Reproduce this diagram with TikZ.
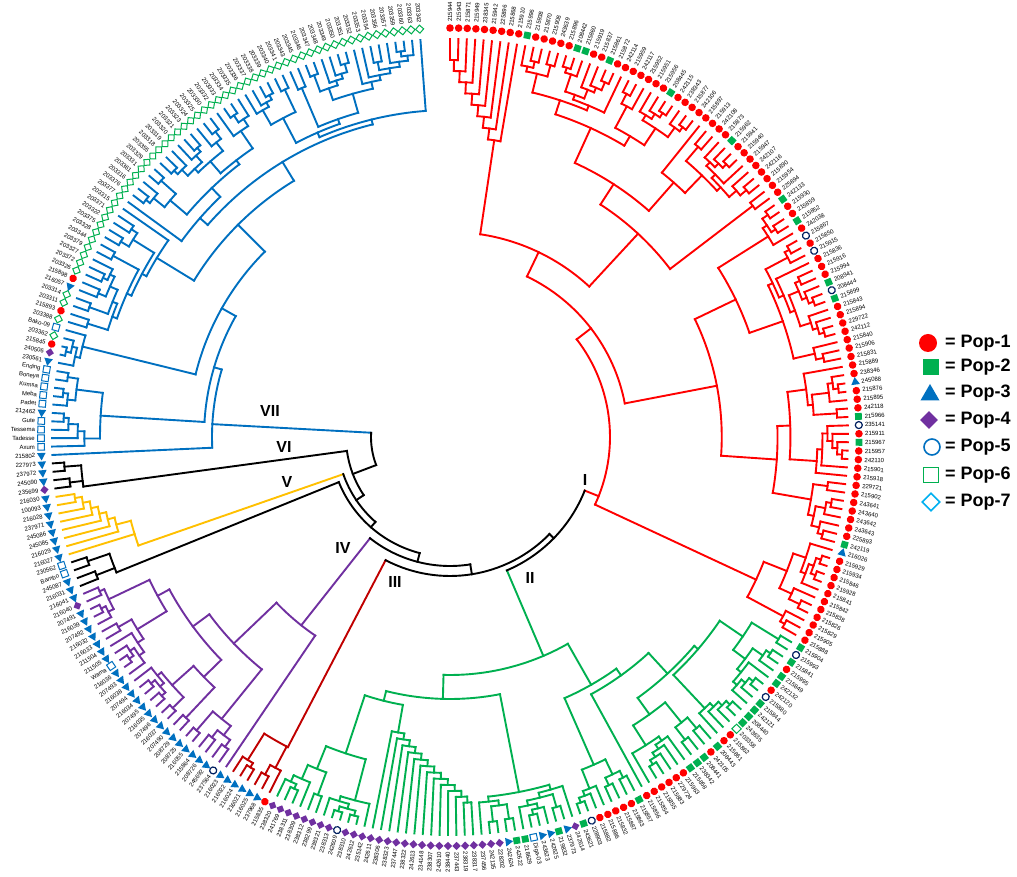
\documentclass[tikz,border=0pt]{standalone}
\usepackage{fontspec}
\setmainfont{Liberation Sans}
\usetikzlibrary{shapes.geometric}
\definecolor{cI}{HTML}{FF0000}
\definecolor{cII}{HTML}{00B050}
\definecolor{cIII}{HTML}{C00000}
\definecolor{cIV}{HTML}{7030A0}
\definecolor{cV}{HTML}{FFC000}
\definecolor{cVII}{HTML}{0070C0}
\definecolor{navy}{HTML}{002060}
\definecolor{sky}{HTML}{00B0F0}
\tikzset{
  br/.style={line width=1.9pt, line cap=rect},
  lbl/.style={font=\fontsize{6}{6}\selectfont, inner sep=0pt},
  legtxt/.style={font=\bfseries\fontsize{18}{18}\selectfont, anchor=west, inner sep=0pt},
  clab/.style={font=\bfseries\fontsize{16}{16}\selectfont, inner sep=0pt},
  mR/.style={circle, fill=cI, minimum size=7.6pt, inner sep=0pt},
  mG/.style={rectangle, fill=cII, minimum size=6.8pt, inner sep=0pt},
  mT/.style={regular polygon, regular polygon sides=3, fill=cVII, minimum size=10pt, inner sep=0pt},
  mD/.style={diamond, fill=cIV, minimum size=8.5pt, inner sep=0pt},
  mO/.style={circle, draw=navy, line width=1.2pt, minimum size=7pt, inner sep=0pt},
  mQ/.style={rectangle, draw=cVII, fill=white, line width=1pt, minimum size=6.6pt, inner sep=0pt},
  mE/.style={diamond, draw=cII, fill=white, line width=1pt, minimum size=8.5pt, inner sep=0pt},
  mS/.style={rectangle, draw=cII, fill=white, line width=1pt, minimum size=6.6pt, inner sep=0pt},
}
\newcommand\Dth{1.21}
\newcommand\Rtip{398}
\newcommand\Rmk{409}
% random subtree over leaves #1..#2 hanging from radius #3
\newcommand\RT[3]{\ifnum#1=#2\relax\expandafter\RTleaf\else\expandafter\RTnode\fi{#1}{#2}{#3}}
\newcommand\RTleaf[3]{%
  \pgfmathsetmacro\tL{90-(#1)*\Dth}%
  \draw[br] (\tL:#3pt) -- (\tL:\Rtip pt);%
  \xdef\ret{\tL}}
\newcommand\RTnode[3]{%
  \begingroup
  \pgfmathtruncatemacro\tN{#2-#1+1}%
  \pgfmathsetmacro\tR{min(\Rtip-4,max(#3+5,\Rtip-9*(\tN^0.7)*(0.7+0.6*rnd)))}%
  \pgfmathtruncatemacro\tK{#1+floor(rnd*(#2-#1))}%
  \pgfmathtruncatemacro\tKb{\tK+1}%
  \edef\tmp{\noexpand\RT{#1}{\tK}{\tR}}\tmp\let\tA\ret
  \edef\tmp{\noexpand\RT{\tKb}{#2}{\tR}}\tmp\let\tB\ret
  \pgfmathsetmacro\tM{(\tA+\tB)/2}%
  \draw[br] (\tA:\tR pt) arc[start angle=\tA, end angle=\tB, radius=\tR pt];
  \draw[br] (\tM:#3pt) -- (\tM:\tR pt);
  \xdef\ret{\tM}%
  \endgroup}
% node: radius, parent radius, child, child
\newcommand\ND[4]{%
  \begingroup
  #3\let\tA\ret
  #4\let\tB\ret
  \pgfmathsetmacro\tM{(\tA+\tB)/2}%
  \draw[br] (\tA:#1pt) arc[start angle=\tA, end angle=\tB, radius=#1pt];
  \draw[br] (\tM:#2pt) -- (\tM:#1pt);
  \xdef\ret{\tM}%
  \endgroup}
% clade top: radius, parent radius, stem angle, child, child
\newcommand\NDA[5]{%
  \begingroup
  #4\let\tA\ret
  #5\let\tB\ret
  \pgfmathsetmacro\tP{max(\tA,#3)}%
  \pgfmathsetmacro\tQ{min(\tB,#3)}%
  \draw[br] (\tP:#1pt) arc[start angle=\tP, end angle=\tQ, radius=#1pt];
  \draw[br] (#3:#2pt) -- (#3:#1pt);
  \xdef\ret{#3}%
  \endgroup}
% ladders: first, last, radius, step, parent radius
\newcommand\LAD[5]{\ifnum#1=#2\relax\RTleaf{#1}{#2}{#5}\else\LADn{#1}{#2}{#3}{#4}{#5}\fi}
\newcommand\LADn[5]{%
  \begingroup
  \pgfmathtruncatemacro\tS{#1+1}\pgfmathsetmacro\tRR{min(#3+#4,\Rtip-3)}%
  \edef\tmp{\noexpand\ND{#3}{#5}{\noexpand\RTleaf{#1}{#1}{#3}}{\noexpand\LAD{\tS}{#2}{\tRR}{#4}{#3}}}\tmp
  \endgroup}
\newcommand\LADr[5]{\ifnum#1=#2\relax\RTleaf{#1}{#2}{#5}\else\LADrn{#1}{#2}{#3}{#4}{#5}\fi}
\newcommand\LADrn[5]{%
  \begingroup
  \pgfmathtruncatemacro\tE{#2-1}\pgfmathsetmacro\tRR{min(#3+#4,\Rtip-3)}%
  \edef\tmp{\noexpand\ND{#3}{#5}{\noexpand\LADr{#1}{\tE}{\tRR}{#4}{#3}}{\noexpand\RTleaf{#2}{#2}{#3}}}\tmp
  \endgroup}
\newcommand\rootarc[3]{\draw[br] (#2:#1pt) arc[start angle=#2, end angle=#3, radius=#1pt];}
\begin{document}
\begin{tikzpicture}
\useasboundingbox (-450pt,-440pt) rectangle (567pt,437pt);
\fill[white] (-450pt,-440pt) rectangle (567pt,437pt);
\pgfmathsetseed{11}
% clades
\begin{scope}[color=cI]
\NDA{160}{145}{-21.7}
  {\ND{178}{160}
    {\ND{205}{178}{\LADr{0}{8}{300}{11}{205}}{\RT{9}{44}{205}}}
    {\RT{45}{87}{178}}}
  {\RT{88}{99}{160}}
\end{scope}
\begin{scope}[color=cII]
\NDA{238}{145}{-66.9}
  {\RT{100}{133}{238}}
  {\ND{262}{238}{\RT{134}{145}{262}}
    {\ND{272}{262}{\LADr{146}{158}{300}{6}{272}}{\RT{159}{170}{272}}}}
\end{scope}
\begin{scope}[color=cIII]
\NDA{350}{139}{-117.6}{\RT{171}{173}{350}}{\RT{174}{176}{350}}
\end{scope}
\begin{scope}[color=cIV]
\NDA{240}{129}{-128.3}{\RTleaf{177}{177}{240}}{\RT{178}{204}{240}}
\end{scope}
\begin{scope}[color=black]
\NDA{360}{120}{-157.9}{\RT{205}{206}{360}}{\RT{207}{208}{360}}
\end{scope}
\begin{scope}[color=cV]
\NDA{330}{113}{-160.8}{\RTleaf{209}{209}{330}}{\LAD{210}{216}{345}{7}{330}}
\end{scope}
\begin{scope}[color=black]
\NDA{370}{104}{-172.3}{\RT{217}{218}{370}}{\RT{219}{220}{370}}
\end{scope}
\begin{scope}[color=cVII]
\NDA{238}{79}{-183.1}{\RTleaf{221}{221}{238}}
  {\ND{246}{238}
    {\ND{350}{246}{\RT{222}{226}{350}}{\RT{227}{231}{350}}}
    {\ND{262}{246}{\RT{232}{236}{262}}
      {\ND{300}{262}{\RT{237}{252}{300}}
        {\ND{322}{300}{\RT{253}{271}{322}}{\RT{272}{294}{322}}}}}}
\end{scope}
% backbone
\rootarc{145}{-21.7}{-66.9}
\draw[br] (-44.3:139pt) -- (-44.3:145pt);
\rootarc{139}{-44.3}{-117.6}
\draw[br] (-80.95:129pt) -- (-80.95:139pt);
\rootarc{129}{-80.95}{-128.3}
\draw[br] (-104.63:120pt) -- (-104.63:129pt);
\rootarc{120}{-104.63}{-157.9}
\draw[br] (-131.27:113pt) -- (-131.27:120pt);
\rootarc{113}{-131.27}{-160.8}
\draw[br] (-146.03:104pt) -- (-146.03:113pt);
\rootarc{104}{-146.03}{-172.3}
\draw[br] (-159.17:79pt) -- (-159.17:104pt);
\rootarc{79}{-159.17}{-183.1}
% leaves
\foreach \m/\t [count=\i from 0] in {
R/215944,R/215943,R/215871,R/215949,R/238345,R/215942,R/225896,R/215868,R/215910,G/215996,
R/215938,R/215870,R/215908,R/243639,R/215896,G/208442,G/215860,R/215919,R/215837,G/215861,
R/215872,R/242114,R/215959,R/242117,R/215952,R/215951,R/215956,G/208445,R/242115,R/238343,
R/215877,R/242106,R/215897,R/215913,R/242108,R/215873,G/215962,R/215941,R/215940,R/215947,
R/242107,R/242116,R/215890,R/215954,R/225894,G/242133,R/215930,R/215859,G/215852,R/242038,
O/215867,R/215850,O/215915,R/215836,R/215916,R/215994,G/208941,O/208444,G/215899,R/215843,
R/215894,R/229722,R/242112,R/215840,R/215906,R/215831,R/215889,R/238346,T/245088,R/215876,
R/215895,R/242118,G/215966,O/235141,R/215911,G/215967,R/215957,R/242110,R/215901,R/215918,
R/229721,R/215902,R/243641,R/243640,R/243642,R/243643,R/225893,G/242119,T/216026,R/215929,
R/215934,R/215846,R/215928,R/215841,R/215842,R/215838,R/215826,R/215829,R/215905,R/215888,
G/215904,O/215993,G/215841,R/215995,G/215849,G/242132,R/242120,O/215880,G/215844,G/242121,
G/208440,G/243635,S/203358,R/215862,R/215861,G/208443,R/242105,G/208441,G/238342,G/215858,
R/215963,R/229724,R/215883,R/215855,R/215854,R/215856,G/215857,R/215863,R/215887,R/215832,
R/215886,R/215882,O/228903,G/243621,D/242614,T/237973,G/219832,T/242625,T/243623,Q/Diga-03,
G/218629,G/242622,T/242624,D/228202,D/242135,D/237456,D/238317,D/238319,D/237443,D/238440,
D/242610,D/238307,D/234148,D/242613,D/238322,D/237447,D/238323,D/238306,D/242611,D/235142,
D/242612,D/238310,O/242609,D/238313,D/238321,D/238299,D/238312,D/238309,D/238311,D/241769,
D/238320,
R/215835,T/237968,T/216025,T/216021,T/216024,T/216022,
T/216023,O/237564,T/245692,T/208726,T/215864,T/216055,T/208725,T/208729,T/207490,T/216037,
T/207496,T/216035,T/207495,T/216034,T/207494,T/216038,T/207493,T/216036,Q/Wama,T/211505,
T/211504,T/216033,T/216032,T/207492,T/216039,T/207491,D/216040,T/216041,
T/216031,T/245087,Q/Bambo,Q/230562,
T/216027,T/216029,T/245085,T/245086,T/237971,T/216028,T/100093,T/216030,
D/235699,T/245090,T/237972,T/227973,
T/215802,Q/Axum,Q/Tadesse,Q/Tessema,Q/Gute,T/212462,Q/Padet,Q/Meba,Q/Kumsa,Q/Boneya,
Q/Ending,T/230561,D/240506,R/215845,E/203362,Q/Bako-09,
E/203388,R/215893,E/203311,E/203314,T/216057,R/215898,
E/203326,E/203372,E/203327,E/203379,E/203344,E/203328,E/203375,E/203322,E/203371,E/203315,
E/203377,E/203376,E/203316,E/203361,E/203331,E/203329,E/203355,E/203318,E/203319,E/203320,
E/203321,E/203323,E/203324,E/203325,E/203330,E/203332,E/203333,E/203334,E/203335,E/203336,
E/203337,E/203338,E/203339,E/203340,E/203341,E/203343,E/203345,E/203346,E/203347,E/203348,
E/203349,E/203350,E/203351,E/203352,E/203353,E/203354,E/203356,E/203357,E/203359,E/203360,
E/203363,E/203342}{
  \pgfmathsetmacro\a{90-\i*\Dth}
  \node[m\m, rotate=\a] (m\i) at (\a:\Rmk pt) {};
  \ifdim\a pt>-90pt
    \node[lbl, anchor=west, rotate=\a] (t\i) at (\a:415pt) {\t};
  \else
    \node[lbl, anchor=east, rotate=\a+180] (t\i) at (\a:415pt) {\t};
  \fi
}
% clade numerals
\node[clab] (nI) at (135pt,-43pt) {I};
\node[clab] (nII) at (80pt,-141pt) {II};
\node[clab] (nIII) at (-55pt,-145pt) {III};
\node[clab] (nIV) at (-107pt,-111pt) {IV};
\node[clab] (nV) at (-163pt,-45pt) {V};
\node[clab] (nVI) at (-166pt,-10pt) {VI};
\node[clab] (nVII) at (-180pt,26pt) {VII};
% legend
\node[circle, fill=cI, minimum size=18pt, inner sep=0pt] (k1) at (478pt,94pt) {};
\node[rectangle, fill=cII, minimum size=16pt, inner sep=0pt] (k2) at (481pt,70pt) {};
\node[regular polygon, regular polygon sides=3, fill=cVII, minimum size=22pt, inner sep=0pt] (k3) at (480pt,42pt) {};
\node[diamond, fill=cIV, minimum size=18pt, inner sep=0pt] (k4) at (479pt,17pt) {};
\node[circle, draw=cVII, line width=1.6pt, minimum size=16pt, inner sep=0pt] (k5) at (482pt,-10pt) {};
\node[rectangle, draw=cII, line width=1.6pt, minimum size=15pt, inner sep=0pt] (k6) at (481pt,-38pt) {};
\node[diamond, draw=sky, line width=1.6pt, minimum size=18pt, inner sep=0pt] (k7) at (481pt,-65pt) {};
\foreach \k/\y in {1/94,2/70,3/44,4/17,5/-10,6/-38,7/-65}
  \node[legtxt] (p\k) at (495pt,\y pt) {=\hspace{5pt}Pop-\k};
\end{tikzpicture}
\end{document}
